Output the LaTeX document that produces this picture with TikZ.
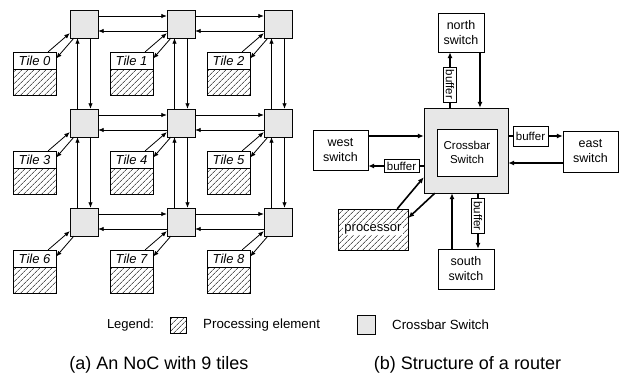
\documentclass[tikz,border=0pt]{standalone}
\usepackage{fontspec}
\setmainfont{Liberation Sans}
\usetikzlibrary{arrows.meta,patterns.meta}
\tikzset{
  xbar/.style={draw, fill=gray!8, minimum width=28pt, minimum height=28pt, inner sep=0pt,
    postaction={pattern={Dots[distance=2pt,radius=0.4pt]}, pattern color=gray!60!black}},
  tilelab/.style={draw, fill=white, minimum width=43pt, minimum height=17pt, inner sep=0pt,
    font=\fontsize{13}{13}\selectfont\itshape},
  pe/.style={draw, minimum width=43pt, minimum height=26pt, inner sep=0pt,
    pattern={Lines[angle=45,distance=4pt,line width=0.5pt]}},
  link/.style={-{Latex[length=5.5pt,width=4.5pt]}, line width=0.8pt},
  sw/.style={draw, minimum width=55pt, minimum height=40pt, inner sep=0pt, align=center,
    font=\fontsize{12.5}{15}\selectfont},
  buf/.style={draw, fill=white, minimum width=35pt, minimum height=13pt, inner sep=0pt,
    font=\fontsize{11.5}{11}\selectfont},
  rlink/.style={-{Latex[length=6pt,width=5pt]}, line width=1.6pt},
  rline/.style={line width=1.6pt},
}
\begin{document}
\begin{tikzpicture}[x=1pt,y=-1pt]
  \useasboundingbox (0,0) rectangle (622,383);
  % (a) the 3x3 NoC
  \foreach \r in {0,1,2} {
    \foreach \c in {0,1,2} {
      \pgfmathtruncatemacro\i{3*\r+\c}
      \node[xbar] (s\i) at (84+97*\c, 24+99*\r) {};
      \node[tilelab] (l\i) at (34.5+97*\c, 60.5+99*\r) {Tile \i};
      \node[pe] (p\i) at (34.5+97*\c, 82+99*\r) {};
      \draw[link] ([xshift=-8pt]l\i.north east) -- ([yshift=5pt]s\i.south west);
      \draw[link] ([xshift=4pt]s\i.south west) -- ([yshift=2pt]l\i.east);
    }
  }
  \foreach \i/\j in {0/1,1/2,3/4,4/5,6/7,7/8} {
    \draw[link] ([yshift=8pt]s\i.east) -- ([yshift=8pt]s\j.west);
    \draw[link] ([yshift=-7pt]s\j.west) -- ([yshift=-7pt]s\i.east);
  }
  \foreach \i/\k in {0/3,1/4,2/5,3/6,4/7,5/8} {
    \draw[link] ([xshift=-6.5pt]s\k.north) -- ([xshift=-6.5pt]s\i.south);
    \draw[link] ([xshift=6.5pt]s\i.south) -- ([xshift=6.5pt]s\k.north);
  }
  % (b) the router
  \node[xbar, minimum width=84pt, minimum height=85pt] (cb) at (466,150.5) {};
  \node[draw, fill=white, minimum width=60pt, minimum height=47pt, inner sep=0pt, align=center,
    font=\fontsize{11.5}{14}\selectfont] (cbin) at (467,152.5) {Crossbar\\Switch};
  \node[sw, minimum width=46pt, minimum height=39pt] (north) at (461,32.5) {north\\switch};
  \node[sw] (west) at (340.5,150) {west\\switch};
  \node[sw, minimum height=41pt] (east) at (590.5,151.5) {east\\switch};
  \node[sw, minimum width=56pt] (south) at (466,269) {south\\switch};
  \node[draw, minimum width=70pt, minimum height=41pt, inner sep=0pt,
    pattern={Lines[angle=45,distance=4pt,line width=0.5pt]}] (proc) at (373,229.5) {};
  \node[fill=white, inner sep=1pt, font=\fontsize{13}{13}\selectfont] (proctxt) at (proc) {processor};
  \node[buf, rotate=-90] (bufN) at (450,84.5) {buffer};
  \node[buf, rotate=-90] (bufS) at (478,216) {buffer};
  \node[buf, minimum height=20pt] (bufE) at (530.5,136) {buffer};
  \node[buf] (bufW) at (401.5,166) {buffer};
  \draw[rlink] (bufN.west) -- (bufN.west |- north.south);
  \draw[rline] (bufN.east |- cb.north) -- (bufN.east);
  \draw[rlink] ([xshift=14pt]cb.north |- north.south) -- ([xshift=14pt]cb.north);
  \draw[rlink] ([yshift=14pt]west.east) -- ([yshift=14pt]west.east -| cb.west);
  \draw[rline] (cb.west |- bufW) -- (bufW.east);
  \draw[rlink] (bufW.west) -- (bufW -| west.east);
  \draw[rline] (cb.east |- bufE) -- (bufE.west);
  \draw[rlink] (bufE.east) -- (bufE -| east.west);
  \draw[rlink] ([yshift=-11.5pt]east.west) -- ([yshift=-11.5pt]east.west -| cb.east);
  \draw[rlink] ([xshift=-14pt]south.north) -- ([xshift=-14pt]south.north |- cb.south);
  \draw[rline] (bufS.west |- cb.south) -- (bufS.west);
  \draw[rlink] (bufS.east) -- (bufS.east |- south.north);
  \draw[rlink] ([xshift=-11pt]proc.north east) -- ([yshift=16pt]cb.south west);
  \draw[rlink] ([xshift=11pt]cb.south west) -- ([yshift=11.5pt]proc.east);
  % legend and captions
  \node[font=\fontsize{13}{13}\selectfont] (leg) at (130.5,325) {Legend:};
  \node[draw, minimum width=16pt, minimum height=16pt, inner sep=0pt,
    pattern={Lines[angle=45,distance=4pt,line width=0.5pt]}] (legpe) at (178,325) {};
  \node[anchor=west, inner sep=0pt, font=\fontsize{13.3}{13}\selectfont] (legpetxt) at (203,325) {Processing element};
  \node[xbar, minimum width=18pt, minimum height=19pt] (legxb) at (366.5,325) {};
  \node[anchor=west, inner sep=0pt, font=\fontsize{13.3}{13}\selectfont] (legxbtxt) at (392,325) {Crossbar Switch};
  \node[font=\fontsize{18}{18}\selectfont] (capa) at (159,365) {(a) An NoC with 9 tiles};
  \node[font=\fontsize{18}{18}\selectfont] (capb) at (467.5,365) {(b) Structure of a router};
\end{tikzpicture}
\end{document}
